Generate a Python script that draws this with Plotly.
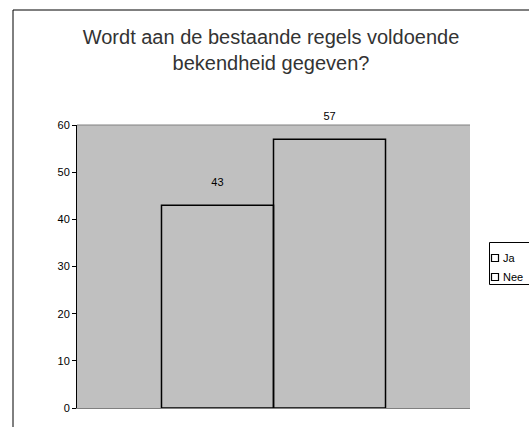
import plotly.graph_objects as go

categories = [""]
series_names = ["Ja", "Nee"]
series_values = [[43], [57]]
y_ticks = [0, 10, 20, 30, 40, 50, 60]

W, H = 529, 427
L, R, T, B = 77, 470, 125, 408
pw, ph = R - L, B - T

fig = go.Figure()
for name, vals in zip(series_names, series_values):
    fig.add_trace(go.Bar(
        x=categories, y=vals, name=name, showlegend=False,
        marker=dict(color="rgba(0,0,0,0)", line=dict(color="black", width=1.5)),
        text=[f"{v}<br>\u00a0" for v in vals], textposition="outside",
        textfont=dict(family="Liberation Sans, Arial", size=11, color="black"),
        constraintext="none", cliponaxis=False,
    ))

def px_x(px):
    return (px - L) / pw

def px_y(py):
    return (B - py) / ph

shapes = [
    dict(type="line", xref="paper", yref="paper", x0=0, x1=1, y0=1, y1=1,
         line=dict(color="#808080", width=1)),
    dict(type="line", xref="paper", yref="paper",
         x0=px_x(13), x1=px_x(13), y0=px_y(10), y1=px_y(H + 5),
         line=dict(color="black", width=1)),
    dict(type="line", xref="paper", yref="paper",
         x0=px_x(13), x1=px_x(W + 5), y0=px_y(10), y1=px_y(10),
         line=dict(color="black", width=1)),
    # legend box
    dict(type="rect", xref="paper", yref="paper",
         x0=px_x(489.5), x1=px_x(W + 5), y0=px_y(242.5), y1=px_y(284.5),
         line=dict(color="black", width=1), fillcolor="white", layer="above"),
]
annotations = []
for i, name in enumerate(series_names):
    cy = 258 + i * 19
    shapes.append(dict(type="rect", xref="paper", yref="paper",
                       x0=px_x(491.5), x1=px_x(498.5), y0=px_y(cy - 3.5), y1=px_y(cy + 3.5),
                       line=dict(color="black", width=1.2), fillcolor="white", layer="above"))
    annotations.append(dict(text=name, xref="paper", yref="paper",
                            x=px_x(501), y=px_y(cy), xanchor="left", yanchor="middle",
                            showarrow=False, font=dict(size=11, color="black")))

fig.update_layout(
    width=W, height=H,
    margin=dict(l=L, r=W - R, t=T, b=H - B, pad=0, autoexpand=False),
    paper_bgcolor="white", plot_bgcolor="#C0C0C0",
    barmode="group", bargap=0.43, bargroupgap=0,
    font=dict(family="Liberation Sans, Arial", size=11, color="black"),
    title=dict(text="Wordt aan de bestaande regels voldoende<br>bekendheid gegeven?",
               x=271 / W, xanchor="center", y=1 - 44 / H, yanchor="middle",
               font=dict(family="Liberation Sans, Arial", size=20, color="#333333")),
    showlegend=False,
    xaxis=dict(showticklabels=False, showgrid=False, zeroline=False,
               showline=True, linecolor="#808080", linewidth=1, ticks=""),
    yaxis=dict(range=[0, 60], tickvals=y_ticks, ticks="outside", ticklen=4,
               tickcolor="black", showgrid=False, zeroline=False,
               showline=True, linecolor="black", linewidth=1,
               tickfont=dict(size=11, color="black")),
    shapes=shapes,
    annotations=annotations,
)
fig.write_html("out.html", config={"displayModeBar": False},
               post_script="document.body.style.margin='0';")
